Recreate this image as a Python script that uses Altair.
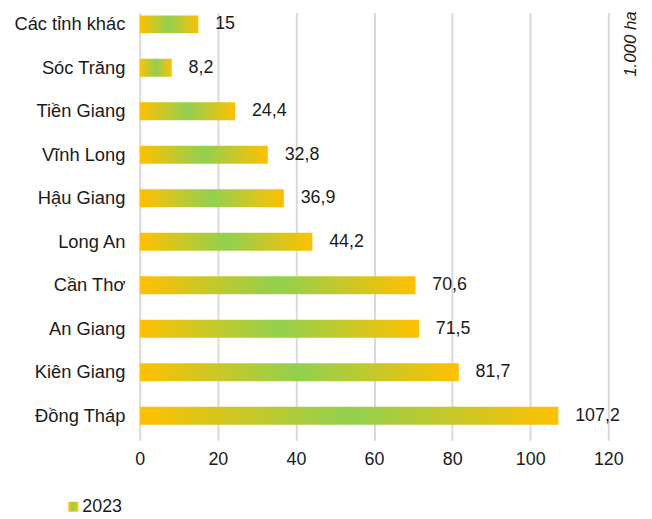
import altair as alt
import pandas as pd

provinces = ["Các tỉnh khác", "Sóc Trăng", "Tiền Giang", "Vĩnh Long", "Hậu Giang",
             "Long An", "Cần Thơ", "An Giang", "Kiên Giang", "Đồng Tháp"]
values = [15, 8.2, 24.4, 32.8, 36.9, 44.2, 70.6, 71.5, 81.7, 107.2]
value_labels = ["15", "8,2", "24,4", "32,8", "36,9", "44,2", "70,6", "71,5", "81,7", "107,2"]
year = "2023"
unit = "1.000 ha"
x_ticks = [0, 20, 40, 60, 80, 100, 120]

df = pd.DataFrame({"province": provinces, "value": values, "label": value_labels,
                   "year": [year] * len(provinces)})

FONT = "Liberation Sans"
TXT = "#1a1a1a"

grad = alt.Gradient(
    gradient="linear",
    stops=[alt.GradientStop(offset=0, color="#FFC000"),
           alt.GradientStop(offset=0.5, color="#92D050"),
           alt.GradientStop(offset=1, color="#FFC000")],
    x1=0, x2=1, y1=0, y2=0,
)

y_enc = alt.Y("province:N", sort=provinces, title=None,
              scale=alt.Scale(paddingInner=0.59, paddingOuter=0.215, align=0.16),
              axis=alt.Axis(domain=False, ticks=False, labelPadding=15, labelFontSize=18.5,
                            labelFont=FONT, labelColor=TXT, grid=False))
x_enc = alt.X("value:Q", title=None,
              scale=alt.Scale(domain=[0, 120], nice=False),
              axis=alt.Axis(values=x_ticks, domain=False, ticks=False, labelPadding=10,
                            labelFlush=False, labelFontSize=18, labelFont=FONT,
                            labelColor=TXT, grid=True, gridColor="#d9d9d9", gridWidth=2))

bars = alt.Chart(df).mark_bar(color=grad).encode(
    x=x_enc, y=y_enc,
    opacity=alt.Opacity("year:N", scale=alt.Scale(range=[1]), title=None,
                        legend=alt.Legend(orient="none", legendX=-76, legendY=490,
                                          symbolType="square", symbolSize=100,
                                          symbolFillColor="#C8C83C", symbolStrokeWidth=0,
                                          labelFontSize=18, labelFont=FONT,
                                          labelColor=TXT, labelOffset=0)),
)

labels = alt.Chart(df).mark_text(align="left", baseline="middle", dx=17,
                                 fontSize=18, font=FONT, color=TXT).encode(
    x="value:Q", y=alt.Y("province:N", sort=provinces), text="label:N")

unit_txt = alt.Chart(pd.DataFrame({"t": [unit]})).mark_text(
    angle=270, align="center", baseline="middle", fontSize=17, font=FONT,
    fontStyle="italic", color=TXT).encode(
    x=alt.value(496), y=alt.value(32), text="t:N")

chart = alt.layer(bars, labels, unit_txt).properties(
    width=473, height=432,
    padding={"left": 5, "top": 0, "right": 5, "bottom": 5},
).configure_view(stroke=None)

chart.save("out.html", embed_options={"renderer": "svg", "actions": False})
